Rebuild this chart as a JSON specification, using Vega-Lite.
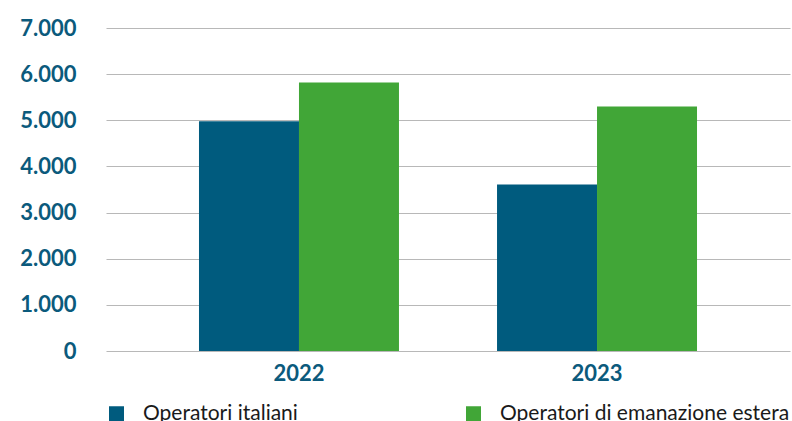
{
  "$schema": "https://vega.github.io/schema/vega-lite/v6.json",
  "width": 684,
  "height": 323,
  "autosize": "none",
  "padding": {"left": 106, "top": 28, "right": 2, "bottom": 70},
  "background": "white",
  "data": {
    "values": [
      {"anno": "2022", "serie": "Operatori italiani", "valore": 4980},
      {"anno": "2022", "serie": "Operatori di emanazione estera", "valore": 5820},
      {"anno": "2023", "serie": "Operatori italiani", "valore": 3610},
      {"anno": "2023", "serie": "Operatori di emanazione estera", "valore": 5300}
    ]
  },
  "mark": {"type": "bar"},
  "encoding": {
    "x": {
      "field": "anno",
      "type": "nominal",
      "scale": {"paddingInner": 0.329, "paddingOuter": 0.312},
      "axis": {
        "title": null,
        "labelAngle": 0,
        "domain": false,
        "ticks": false,
        "labelFont": "Lato",
        "labelFontWeight": "bold",
        "labelFontSize": 22,
        "labelColor": "#0b5a7c",
        "labelPadding": 12
      }
    },
    "xOffset": {
      "field": "serie",
      "type": "nominal",
      "sort": ["Operatori italiani", "Operatori di emanazione estera"],
      "scale": {"paddingInner": 0, "paddingOuter": 0}
    },
    "y": {
      "field": "valore",
      "type": "quantitative",
      "scale": {"domain": [0, 7000]},
      "axis": {
        "title": null,
        "values": [0, 1000, 2000, 3000, 4000, 5000, 6000, 7000],
        "labelExpr": "replace(format(datum.value, ','), ',', '.')",
        "domain": false,
        "ticks": false,
        "grid": true,
        "gridColor": "#b8b8b8",
        "gridWidth": 1.2,
        "labelFont": "Lato",
        "labelFontWeight": "bold",
        "labelFontSize": 22,
        "labelColor": "#0b5a7c",
        "labelPadding": 30
      }
    },
    "color": {
      "field": "serie",
      "type": "nominal",
      "sort": ["Operatori italiani", "Operatori di emanazione estera"],
      "scale": {
        "domain": ["Operatori italiani", "Operatori di emanazione estera"],
        "range": ["#005b7e", "#41a637"]
      },
      "legend": {
        "title": null,
        "orient": "none",
        "legendX": 0,
        "legendY": 375,
        "direction": "horizontal",
        "symbolType": "square",
        "symbolSize": 225,
        "symbolStrokeWidth": 0,
        "labelFont": "Lato",
        "labelFontSize": 21,
        "labelColor": "#1a1a1a",
        "labelOffset": 16,
        "columnPadding": 165,
        "labelLimit": 400
      }
    }
  },
  "config": {
    "view": {"stroke": null}
  }
}
